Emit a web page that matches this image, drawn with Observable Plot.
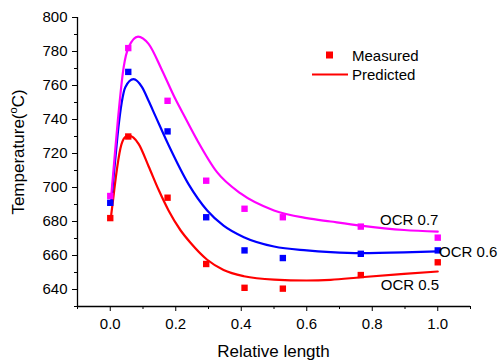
<!DOCTYPE html>
<html>
<head>
<meta charset="utf-8">
<script src="https://cdn.jsdelivr.net/npm/d3@7"></script>
<script src="https://cdn.jsdelivr.net/npm/@observablehq/plot@0.6"></script>
<style>
  html, body { margin: 0; padding: 0; background: #fff; }
  svg { font-family: "Liberation Sans", Arial, sans-serif; }
</style>
</head>
<body>
<div id="chart"></div>
<script>
// Measured points
const measuredX = [0, 0.055, 0.175, 0.293, 0.41, 0.527, 0.765, 1.0];
const measured05 = [682, 730, 694, 655, 641, 640.5, 648.5, 656];
const measured06 = [691, 768, 733, 682.5, 663, 658.5, 661, 663];
const measured07 = [695, 782, 751, 704, 687.5, 682.5, 677, 670.5];

// Predicted curves
const predX05 = [0.003, 0.01, 0.017, 0.031, 0.045, 0.056, 0.07, 0.087, 0.117, 0.148, 0.178, 0.214, 0.245, 0.296, 0.346, 0.408, 0.5, 0.6, 0.673, 0.765, 0.897, 1.0];
const pred05 = [684, 695, 706, 723, 729.5, 730.6, 729.5, 725.5, 712.5, 698.5, 686.5, 675, 667.5, 657.5, 651.5, 647.8, 645.8, 645.3, 645.7, 647.2, 649.2, 650.6];
const predX06 = [0.003, 0.015, 0.025, 0.035, 0.046, 0.071, 0.097, 0.117, 0.138, 0.178, 0.239, 0.296, 0.346, 0.408, 0.5, 0.6, 0.673, 0.765, 0.897, 1.0];
const pred06 = [692, 716, 735.5, 750, 759, 763.7, 759, 751, 742, 725, 702, 686.5, 677.6, 670.8, 665.3, 663, 662, 661.4, 661.8, 662.4];
const predX07 = [0.003, 0.012, 0.023, 0.041, 0.056, 0.085, 0.117, 0.158, 0.199, 0.229, 0.265, 0.326, 0.398, 0.5, 0.6, 0.673, 0.765, 0.897, 1.0];
const pred07 = [695, 715, 739, 770.8, 782.5, 788.8, 784.5, 769, 752, 741, 728, 709, 696.5, 686.5, 682, 680, 677.6, 675, 674];

const seriesNames = ["OCR 0.5", "OCR 0.6", "OCR 0.7"];
const seriesColors = ["#ff0000", "#0000ff", "#ff00ff"];

// Series labels (anchored in data space)
const labelText = ["OCR 0.7", "OCR 0.6", "OCR 0.5"];
const labelX = [0.824, 1.004, 0.826];
const labelY = [681, 662.2, 642.6];

// Axis ticks
const xMajor = [0, 0.2, 0.4, 0.6, 0.8, 1.0];
const xMinor = [-0.1, 0.1, 0.3, 0.5, 0.7, 0.9, 1.1];
const yMajor = [640, 660, 680, 700, 720, 740, 760, 780, 800];
const yMinor = [630, 650, 670, 690, 710, 730, 750, 770, 790];

const measuredSets = [measured05, measured06, measured07];
const predXSets = [predX05, predX06, predX07];
const predSets = [pred05, pred06, pred07];

const points = [];
measuredSets.forEach((arr, s) => arr.forEach((v, i) => points.push({x: measuredX[i], y: v, s: seriesNames[s]})));
const curves = [];
predSets.forEach((arr, s) => arr.forEach((v, i) => curves.push({x: predXSets[s][i], y: v, s: seriesNames[s]})));
const labels = labelText.map((t, i) => ({t, x: labelX[i], y: labelY[i]}));

const plot = Plot.plot({
  width: 498,
  height: 361,
  marginLeft: 77,
  marginRight: 28,
  marginTop: 17,
  marginBottom: 55,
  style: {fontFamily: '"Liberation Sans", Arial, sans-serif', fontSize: "15px", color: "#000", background: "#fff"},
  x: {domain: [-0.1, 1.1]},
  y: {domain: [630, 800]},
  color: {domain: seriesNames, range: seriesColors},
  marks: [
    Plot.axisX({ticks: xMinor, tickSize: 3, tickFormat: null, label: null, text: null, stroke: "#000"}),
    Plot.axisX({ticks: xMajor, tickSize: 5, tickPadding: 7, tickFormat: d3.format(".1f"), label: null, fontSize: 15, stroke: "#000"}),
    Plot.axisY({ticks: yMinor, tickSize: 3, label: null, text: null, stroke: "#000"}),
    Plot.axisY({ticks: yMajor, tickSize: 5, tickPadding: 5, label: null, fontSize: 15, stroke: "#000"}),
    Plot.ruleY([630], {stroke: "#000", strokeWidth: 1.3}),
    Plot.ruleX([-0.1], {stroke: "#000", strokeWidth: 1.3}),
    Plot.line(curves, {x: "x", y: "y", z: "s", stroke: "s", strokeWidth: 2.2, curve: "monotone-x"}),
    Plot.dot(points, {x: "x", y: "y", fill: "s", symbol: "square", r: 3.6, stroke: null}),
    Plot.text(labels, {x: "x", y: "y", text: "t", textAnchor: "start", fontSize: 15, fill: "#000"})
  ]
});

document.getElementById("chart").appendChild(plot);

// Axis titles and legend
const svg = d3.select(plot);
const yt = svg.append("text")
  .attr("transform", "translate(24,152) rotate(-90)")
  .attr("text-anchor", "middle")
  .attr("font-size", 17)
  .attr("fill", "#000");
yt.append("tspan").text("Temperature(");
yt.append("tspan").attr("font-size", 11).attr("dy", -7).text("o");
yt.append("tspan").attr("dy", 7).text("C)");

svg.append("text")
  .attr("x", 273.5).attr("y", 357)
  .attr("text-anchor", "middle")
  .attr("font-size", 17)
  .attr("fill", "#000")
  .text("Relative length");

const lg = svg.append("g").attr("text-anchor", "start");
lg.append("rect").attr("x", 326).attr("y", 51.5).attr("width", 7).attr("height", 7).attr("fill", seriesColors[0]);
lg.append("text").attr("x", 352).attr("y", 61).attr("font-size", 15).attr("fill", "#000").text("Measured");
lg.append("line").attr("x1", 312).attr("x2", 348).attr("y1", 74.5).attr("y2", 74.5).attr("stroke", seriesColors[0]).attr("stroke-width", 2);
lg.append("text").attr("x", 352).attr("y", 80).attr("font-size", 15).attr("fill", "#000").text("Predicted");
</script>
</body>
</html>
